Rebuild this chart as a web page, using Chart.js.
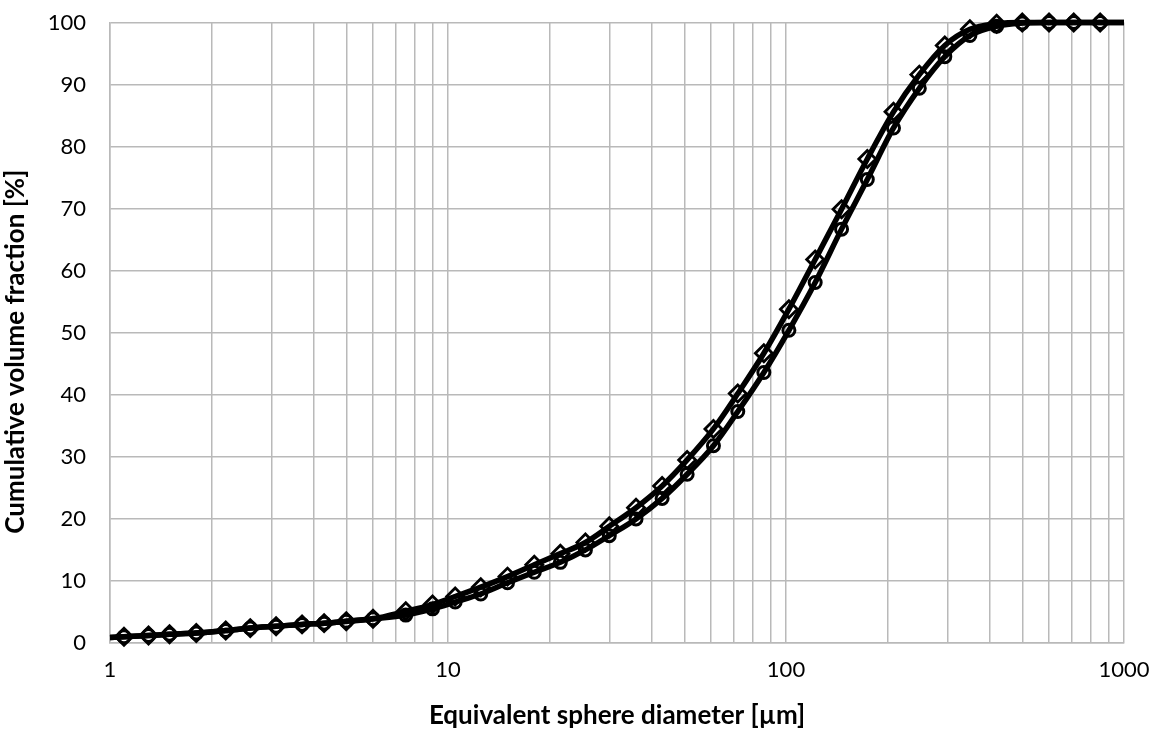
<!DOCTYPE html>
<html>
<head>
<meta charset="utf-8">
<script src="https://cdn.jsdelivr.net/npm/chart.js@4"></script>
<style>
  html, body { margin: 0; padding: 0; background: #fff; }
  #wrap { width: 1159px; height: 731px; }
</style>
</head>
<body>
<div id="wrap"><canvas id="chart" width="1159" height="731"></canvas></div>
<script>
// particle size classes [um]; the end points 1 and 1000 carry no marker
const diameters = [1, 1.1, 1.3, 1.5, 1.8, 2.2, 2.6, 3.1, 3.7, 4.3, 5, 6, 7.5, 9, 10.5, 12.5, 15, 18, 21.5, 25.5, 30,
  36, 43, 51, 61, 72, 86, 102, 122, 146, 174, 208, 248, 295, 350, 420, 500, 600, 710, 850, 1000];
// cumulative volume fraction [%]
const seriesDiamond = [0.9, 1.0, 1.2, 1.4, 1.6, 2.0, 2.4, 2.7, 3.0, 3.2, 3.5, 3.9, 5.1, 6.2, 7.5, 9.0, 10.7, 12.6, 14.4, 16.2, 18.8,
  21.8, 25.3, 29.5, 34.5, 40.2, 46.7, 53.8, 61.8, 69.9, 78.0, 85.6, 91.6, 96.3, 98.9, 99.8, 100, 100, 100, 100, 100];
const seriesCircle = [0.9, 1.0, 1.2, 1.4, 1.6, 2.0, 2.4, 2.7, 3.0, 3.2, 3.5, 3.9, 4.5, 5.5, 6.6, 7.9, 9.7, 11.4, 13.0, 15.0, 17.3,
  20.0, 23.3, 27.2, 31.8, 37.3, 43.6, 50.4, 58.1, 66.7, 74.7, 83.0, 89.4, 94.5, 97.9, 99.4, 99.9, 100, 100, 100, 100];
const xTickLabels = [1, 10, 100, 1000];
const yTicks = [0, 10, 20, 30, 40, 50, 60, 70, 80, 90, 100];

const toPoints = ys => diameters.map((d, i) => ({x: d, y: ys[i]}));
const endless = r => ctx => (ctx.dataIndex === 0 || ctx.dataIndex === diameters.length - 1) ? 0 : r;

// gridlines at 1..9 of each decade
const xGrid = [];
for (let i = 0; i < xTickLabels.length - 1; i++) {
  for (let m = 1; m < 10; m++) xGrid.push(m * xTickLabels[i]);
}
xGrid.push(xTickLabels[xTickLabels.length - 1]);

const gridColor = '#b9b9b9';
const font = 'Lato';

new Chart(document.getElementById('chart'), {
  type: 'line',
  data: {
    datasets: [{
      data: toPoints(seriesDiamond),
      borderColor: '#000',
      borderWidth: 5.5,
      pointStyle: 'rectRot',
      pointRadius: endless(8.5),
      pointBorderWidth: 2.8,
      pointBackgroundColor: 'rgba(0,0,0,0)',
      pointBorderColor: '#000',
      cubicInterpolationMode: 'monotone',
      clip: false,
      order: 0
    }, {
      data: toPoints(seriesCircle),
      borderColor: '#000',
      borderWidth: 5.5,
      pointStyle: 'circle',
      pointRadius: endless(6),
      pointBorderWidth: 3,
      pointBackgroundColor: 'rgba(0,0,0,0)',
      pointBorderColor: '#000',
      cubicInterpolationMode: 'monotone',
      clip: false,
      order: 1
    }]
  },
  options: {
    responsive: false,
    animation: false,
    layout: {padding: {left: 0, right: 35, top: 22.5, bottom: 0}},
    plugins: {legend: {display: false}, tooltip: {enabled: false}},
    scales: {
      x: {
        type: 'logarithmic',
        min: 1,
        max: 1000,
        afterBuildTicks: s => { s.ticks = xGrid.map(v => ({value: v})); },
        afterFit: s => { s.height = 88; s.paddingLeft = 0; s.paddingRight = 0; },
        grid: {color: gridColor, lineWidth: 1.5, drawTicks: false},
        border: {color: gridColor, width: 1.5},
        ticks: {
          autoSkip: false,
          maxRotation: 0,
          padding: 14,
          color: '#000',
          font: {family: font, size: 22},
          callback: v => xTickLabels.includes(v) ? String(v) : ''
        },
        title: {
          display: true,
          text: 'Equivalent sphere diameter [µm]',
          color: '#000',
          font: {family: font, size: 26, weight: 'bold'},
          padding: {top: 1, bottom: 0}
        }
      },
      y: {
        min: 0,
        max: 100,
        afterBuildTicks: s => { s.ticks = yTicks.map(v => ({value: v})); },
        afterFit: s => { s.width = 110; s.paddingTop = 0; s.paddingBottom = 0; },
        grid: {color: gridColor, lineWidth: 1.5, drawTicks: false},
        border: {color: gridColor, width: 1.5},
        ticks: {
          padding: 24,
          color: '#000',
          font: {family: font, size: 22}
        },
        title: {
          display: true,
          text: 'Cumulative volume fraction [%]      ',
          color: '#000',
          font: {family: font, size: 26, weight: 'bold'},
          padding: {top: 0, bottom: 0}
        }
      }
    }
  }
});
</script>
</body>
</html>
